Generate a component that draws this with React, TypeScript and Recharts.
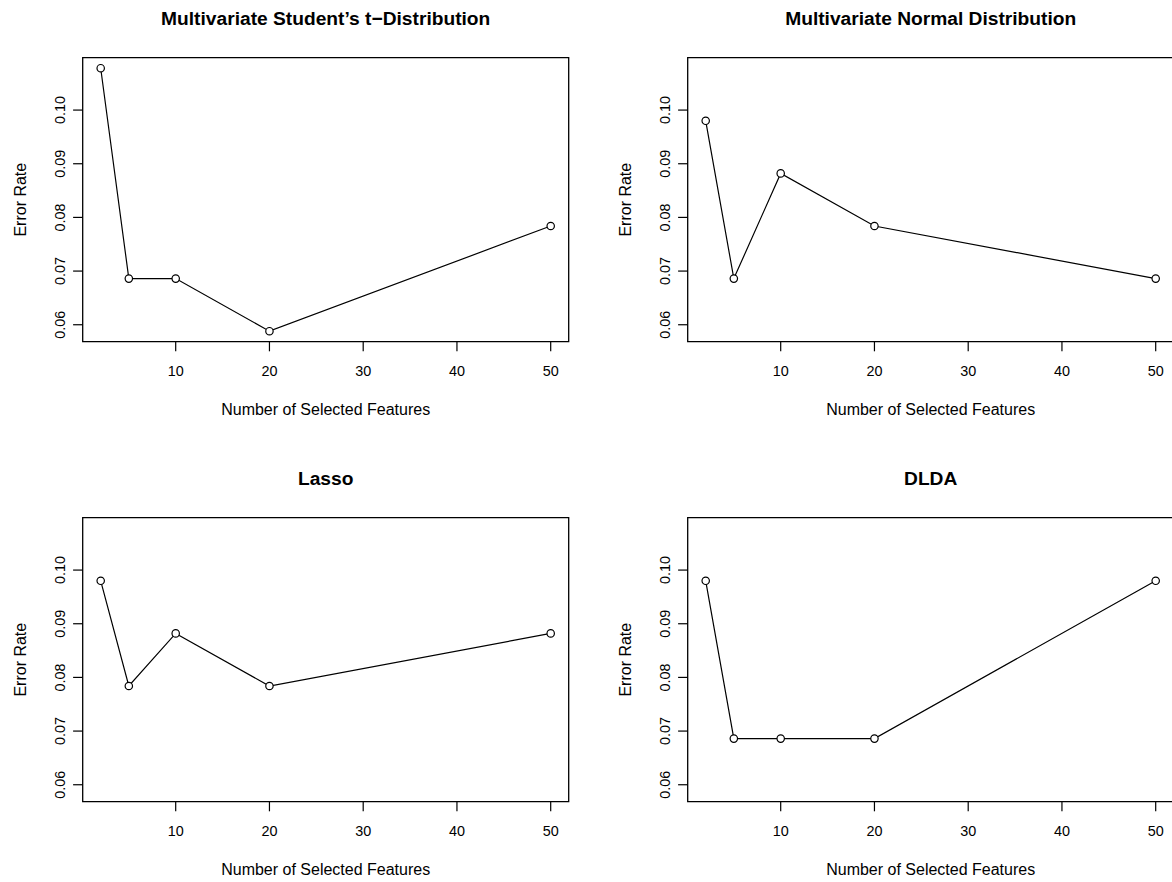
import { Line, LineChart, ReferenceArea, XAxis, YAxis } from "recharts";

const features = [2, 5, 10, 20, 50];
const studentTErr = [0.1078, 0.0686, 0.0686, 0.0588, 0.0784];
const normalErr = [0.098, 0.0686, 0.0882, 0.0784, 0.0686];
const lassoErr = [0.098, 0.0784, 0.0882, 0.0784, 0.0882];
const dldaErr = [0.098, 0.0686, 0.0686, 0.0686, 0.098];

const xTicks = [10, 20, 30, 40, 50];
const yTicks = [0.06, 0.07, 0.08, 0.09, 0.1];

const panelTitles = [
  "Multivariate Student\u2019s t\u2212Distribution",
  "Multivariate Normal Distribution",
  "Lasso",
  "DLDA",
];
const panelSeries = [studentTErr, normalErr, lassoErr, dldaErr];

const xLabel = "Number of Selected Features";
const yLabel = "Error Rate";

const FONT = "'Liberation Sans', Arial, Helvetica, sans-serif";

// R-style 4% axis extension
const pad = (lo: number, hi: number): [number, number] => {
  const d = (hi - lo) * 0.04;
  return [lo - d, hi + d];
};
const allErr = panelSeries.flat();
const xDomain = pad(Math.min(...features), Math.max(...features));
const yDomain = pad(Math.min(...allErr), Math.max(...allErr));

const PANEL_W = 604.6;
const PANEL_H = 460;
const Y_AXIS_W = 82.7;
const X_AXIS_H = 118.3;
const TOP = 57.7;
const TICK = 9.6;

const XTick = (props: any) => {
  const { x, y, payload } = props;
  return (
    <text x={x} y={y} dy="0.71em" textAnchor="middle" fontSize={14.4} fill="#000" fontFamily={FONT}>
      {payload.value}
    </text>
  );
};

const YTick = (props: any) => {
  const { x, y, payload } = props;
  return (
    <text
      transform={`translate(${x},${y}) rotate(-90)`}
      textAnchor="middle"
      fontSize={14.4}
      fill="#000"
      fontFamily={FONT}
    >
      {Number(payload.value).toFixed(2)}
    </text>
  );
};

const XTitle = (props: any) => {
  const vb = props.viewBox || {};
  return (
    <text x={vb.x + vb.width / 2} y={vb.y + 73.3} textAnchor="middle" fontSize={16} fill="#000" fontFamily={FONT}>
      {xLabel}
    </text>
  );
};

const YTitle = (props: any) => {
  const vb = props.viewBox || {};
  const cx = vb.x + vb.width - 57.2;
  const cy = vb.y + vb.height / 2;
  return (
    <text
      transform={`translate(${cx},${cy}) rotate(-90)`}
      textAnchor="middle"
      fontSize={16}
      fill="#000"
      fontFamily={FONT}
    >
      {yLabel}
    </text>
  );
};

const Panel = ({ title, values }: { title: string; values: number[] }) => {
  const data = features.map((f, i) => ({ x: f, y: values[i] }));
  return (
    <LineChart
      width={605}
      height={PANEL_H}
      data={data}
      margin={{ top: TOP, right: 605 - 568.7, left: 0, bottom: 0 }}
    >
      <XAxis
        type="number"
        dataKey="x"
        domain={xDomain}
        ticks={xTicks}
        allowDataOverflow
        height={X_AXIS_H}
        axisLine={false}
        tickSize={TICK}
        tickMargin={14.5}
        tickLine={{ stroke: "#000", strokeWidth: 1.2 }}
        tick={<XTick />}
        label={{ content: <XTitle /> }}
      />
      <YAxis
        type="number"
        dataKey="y"
        domain={yDomain}
        ticks={yTicks}
        allowDataOverflow
        width={Y_AXIS_W}
        axisLine={false}
        tickSize={TICK}
        tickMargin={8.6}
        tickLine={{ stroke: "#000", strokeWidth: 1.2 }}
        tick={<YTick />}
        label={{ content: <YTitle /> }}
      />
      <Line
        type="linear"
        dataKey="y"
        stroke="#000"
        strokeWidth={1.2}
        dot={{ r: 3.7, fill: "#fff", stroke: "#000", strokeWidth: 1.2 }}
        activeDot={false}
        isAnimationActive={false}
      />
      <ReferenceArea
        x1={xDomain[0]}
        x2={xDomain[1]}
        y1={yDomain[0]}
        y2={yDomain[1]}
        ifOverflow="visible"
        fill="none"
        fillOpacity={0}
        stroke="#000"
        strokeWidth={1.3}
        label={{
          value: title,
          position: "top",
          offset: 32.7,
          fontSize: 19.2,
          fontWeight: "bold",
          fill: "#000",
          fontFamily: FONT,
        }}
      />
    </LineChart>
  );
};

export default function App() {
  return (
    <div
      style={{
        position: "absolute",
        left: 0,
        top: 0,
        width: 1172,
        height: 882,
        overflow: "hidden",
        background: "#fff",
        fontFamily: FONT,
      }}
    >
      {panelTitles.map((t, i) => (
        <div
          key={t}
          style={{
            position: "absolute",
            left: (i % 2) * PANEL_W,
            top: Math.floor(i / 2) * PANEL_H,
          }}
        >
          <Panel title={t} values={panelSeries[i]} />
        </div>
      ))}
    </div>
  );
}
